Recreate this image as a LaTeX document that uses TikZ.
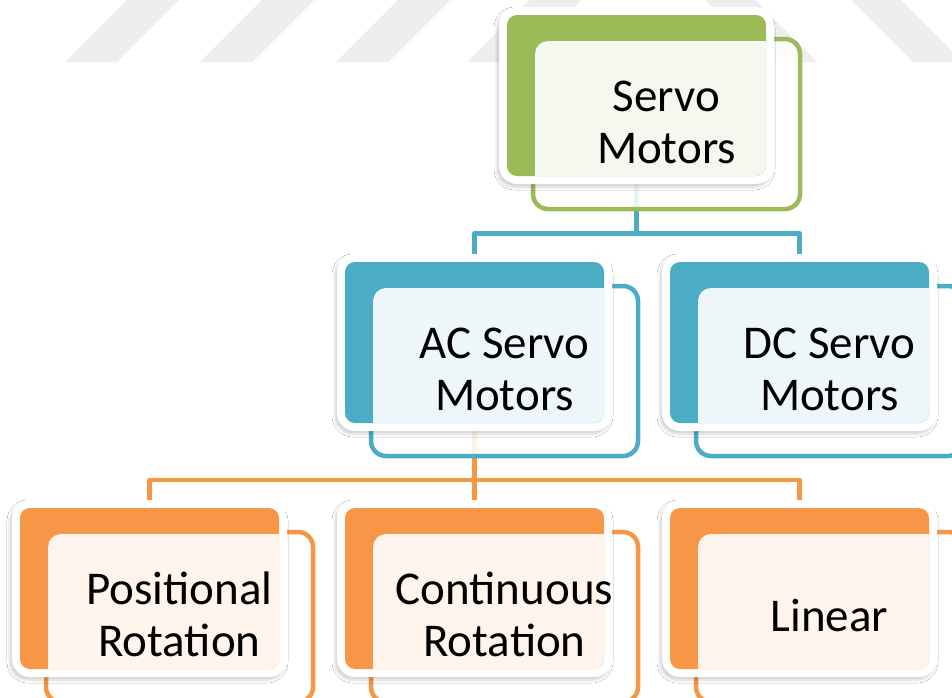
\documentclass[tikz,border=0pt]{standalone}
\usepackage{fontspec}
\setmainfont{Carlito}
\usetikzlibrary{shadows.blur}

\definecolor{smgreen}{HTML}{9BBB59}
\definecolor{smblue}{HTML}{4BACC6}
\definecolor{smorange}{HTML}{F79646}
\definecolor{markgray}{HTML}{EEEEEE}

\tikzset{
  conn/.style={draw=#1, line width=4.5pt, line join=round},
  cardframe/.style={draw=#1, line width=4.5pt, fill=white, fill opacity=0.88, rounded corners=15pt},
  plate/.style={fill=white, rounded corners=18pt,
    blur shadow={shadow xshift=-2pt, shadow yshift=-3pt, shadow blur radius=3pt, shadow opacity=18}},
  face/.style={fill=#1, rounded corners=10pt},
  tint/.style={fill=#1!10, rounded corners=13pt},
  lbl/.style={font=\fontsize{47}{52}\selectfont, anchor=base, inner sep=0pt, outer sep=0pt},
}

% one card: #1 colour, #2/#3 top-left corner of the coloured plate
\newcommand\smcard[3]{%
  \draw[cardframe=#1] ({#2+26},{#3+24}) rectangle ({#2+293},{#3+194});
  \path[plate] ({#2-8},{#3-8}) rectangle ({#2+267},{#3+169});
  \path[face=#1] (#2,#3) rectangle ({#2+259},{#3+161});
  \begin{scope}
    \clip[rounded corners=10pt] (#2,#3) rectangle ({#2+259},{#3+161});
    \path[tint=#1] ({#2+28},{#3+26}) rectangle ({#2+291},{#3+192});
  \end{scope}
}

\begin{document}
\begin{tikzpicture}[x=1pt, y=-1pt]
  \useasboundingbox (0,0) rectangle (952,697);
  \clip (0,0) rectangle (952,697);
  \fill[white] (0,0) rectangle (952,697);

  % light diagonal bands along the top edge
  \foreach \s in {65,200,336,467}
    \fill[markgray] (\s,62) -- ({\s+52},62) -- ({\s+114},0) -- ({\s+62},0) -- cycle;
  \foreach \s in {817,963}
    \fill[markgray] (\s,62) -- ({\s-50},62) -- ({\s-112},0) -- ({\s-62},0) -- cycle;

  % connector end points
  \coordinate (servo-out) at (636.5,176);
  \coordinate (bus-a)     at (636.5,233.5);
  \coordinate (ac-in)     at (474.5,262);
  \coordinate (dc-in)     at (799.5,262);
  \coordinate (ac-out)    at (474.5,423);
  \coordinate (bus-b)     at (474.5,480);
  \coordinate (pos-in)    at (149.5,508);
  \coordinate (cont-in)   at (474.5,508);
  \coordinate (lin-in)    at (799.5,508);

  % connectors
  \draw[conn=smblue] (servo-out) -- (bus-a);
  \draw[conn=smblue] (ac-in) |- (bus-a) -| (dc-in);
  \draw[conn=smorange] (ac-out) -- (cont-in);
  \draw[conn=smorange] (pos-in) |- (bus-b) -| (lin-in);

  % cards
  \smcard{smgreen}{507}{15}
  \smcard{smblue}{345}{262}
  \smcard{smblue}{670}{262}
  \smcard{smorange}{20}{508}
  \smcard{smorange}{345}{508}
  \smcard{smorange}{670}{508}

  % labels
  \node[lbl] (servo-1) at (666.5,111) {Servo};
  \node[lbl] (servo-2) at (666.5,163) {Motors};
  \node[lbl] (ac-1)    at (504.5,358) {AC Servo};
  \node[lbl] (ac-2)    at (504.5,410) {Motors};
  \node[lbl] (dc-1)    at (829.5,358) {DC Servo};
  \node[lbl] (dc-2)    at (829.5,410) {Motors};
  \node[lbl] (pos-1)   at (179.5,604) {Positional};
  \node[lbl] (pos-2)   at (179.5,656) {Rotation};
  \node[lbl] (cont-1)  at (504.5,604) {Continuous};
  \node[lbl] (cont-2)  at (504.5,656) {Rotation};
  \node[lbl] (lin-1)   at (829.5,631) {Linear};
\end{tikzpicture}
\end{document}
